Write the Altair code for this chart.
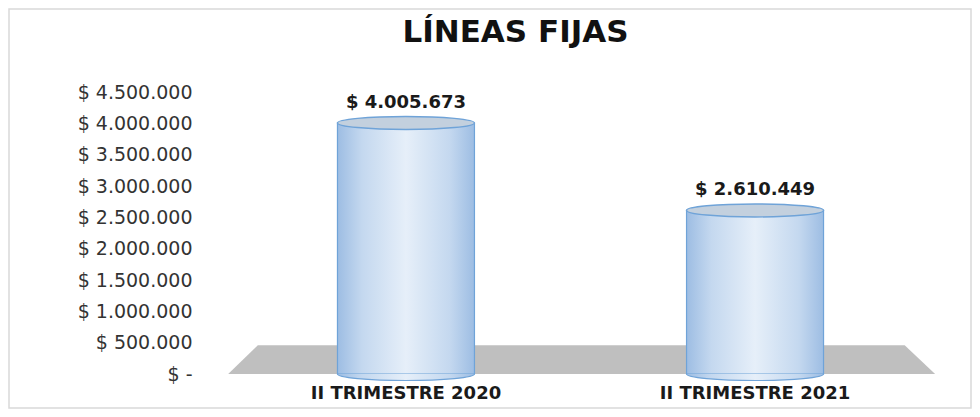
import altair as alt
import pandas as pd

categories = ["II TRIMESTRE 2020", "II TRIMESTRE 2021"]
values = [4005673, 2610449]
y_ticks = [0, 500000, 1000000, 1500000, 2000000, 2500000, 3000000, 3500000, 4000000, 4500000]

# decorative floor (fractions of the plot width, value heights)
floor_x = [0.037, 0.076, 0.926, 0.966]
floor_top = [0, 460000, 460000, 0]

FONT = "DejaVu Sans"

df = pd.DataFrame({
    "cat": categories,
    "value": values,
    "base": [0, 0],
    "label": ["$ " + f"{v:,}".replace(",", ".") for v in values],
})
floor_df = pd.DataFrame({"fx": floor_x, "top": floor_top, "bot": [0, 0, 0, 0]})

xscale = alt.Scale(type="band", domain=categories, paddingInner=0, paddingOuter=0.09)
yscale = alt.Scale(domain=[0, 4500000], nice=False, zero=True)

grad = alt.LinearGradient(
    gradient="linear",
    stops=[
        alt.GradientStop(color="#9dbde3", offset=0),
        alt.GradientStop(color="#c4d8ef", offset=0.18),
        alt.GradientStop(color="#e6eff9", offset=0.5),
        alt.GradientStop(color="#c4d8ef", offset=0.82),
        alt.GradientStop(color="#9dbde3", offset=1),
    ],
    x1=0, x2=1, y1=0, y2=0,
)

k = 0.095
c = 0.5523
ellipse = (
    f"M -1 0 C -1 {-c*k:.4f} {-c:.4f} {-k} 0 {-k} "
    f"C {c:.4f} {-k} 1 {-c*k:.4f} 1 0 "
    f"C 1 {c*k:.4f} {c:.4f} {k} 0 {k} "
    f"C {-c:.4f} {k} -1 {c*k:.4f} -1 0 Z"
)
lower_arc = f"M -1 0 C -1 {c*k:.4f} {-c:.4f} {k} 0 {k} C {c:.4f} {k} 1 {c*k:.4f} 1 0"
lower_half = lower_arc + " Z"
W = 137
SIZE = W * W

YAXIS = alt.Axis(values=y_ticks, tickCount=10, grid=False, domain=False, ticks=False, labelPadding=8,
                 labelOverlap=False, labelFontSize=19, labelFont=FONT, labelColor="#333333",
                 labelExpr="datum.value == 0 ? '$ -' : '$ ' + replace(format(datum.value, ',d'), /,/g, '.')")

border = alt.Chart(pd.DataFrame({"a": [0]})).mark_rect(
    fill=None, stroke="#d9d9d9", strokeWidth=1.5
).encode(
    x=alt.value(-191), x2=alt.value(771), y=alt.value(-83), y2=alt.value(316)
)

floor = alt.Chart(floor_df).mark_area(color="#bfbfbf", opacity=1).encode(
    x=alt.X("fx:Q", scale=alt.Scale(domain=[0, 1], nice=False), axis=None),
    y=alt.Y("top:Q", scale=yscale, axis=YAXIS, title=None),
    y2="bot:Q",
)

base = alt.Chart(df)
X = alt.X(
    "cat:N", scale=xscale, sort=categories, title=None,
    axis=alt.Axis(labelAngle=0, labelFontSize=18, labelFontWeight="bold", labelFont=FONT,
                  labelColor="#1a1a1a", domain=False, ticks=False, labelPadding=10, labelLimit=400),
)
Xn = alt.X("cat:N", scale=xscale, sort=categories, title=None)
Y = alt.Y("value:Q", scale=yscale, title=None, axis=YAXIS)

bars = base.mark_bar(width=W, color=grad, stroke="#6fa3d8", strokeWidth=1.2).encode(
    x=X, y=Y, y2="base:Q"
)
bottom_fill = base.mark_point(shape=lower_half, filled=True, fill=grad, opacity=1, strokeWidth=0).encode(
    x=Xn, y=alt.Y("base:Q", scale=yscale), size=alt.value(SIZE),
)
bottom_arc = base.mark_point(shape=lower_arc, filled=False, stroke="#6fa3d8", strokeWidth=1.2, opacity=1).encode(
    x=Xn, y=alt.Y("base:Q", scale=yscale), size=alt.value(SIZE),
)
top = base.mark_point(shape=ellipse, filled=True, fill="#c3d0de", stroke="#6fa3d8", strokeWidth=1.5, opacity=1).encode(
    x=Xn, y=alt.Y("value:Q", scale=yscale), size=alt.value(SIZE),
)
labels = base.mark_text(font=FONT, fontSize=18, fontWeight="bold", color="#1a1a1a", dy=-20, baseline="middle").encode(
    x=Xn, y=alt.Y("value:Q", scale=yscale), text="label:N",
)

cyl = alt.layer(bars, bottom_fill, bottom_arc, top, labels)

chart = alt.layer(border, floor, cyl).resolve_scale(
    x="independent"
).properties(
    width=761,
    height=282,
    background="white",
    autosize=alt.AutoSizeParams(type="none"),
    padding={"left": 192, "top": 84, "right": 11, "bottom": 35},
    title=alt.TitleParams("LÍNEAS FIJAS", font=FONT, fontSize=31, fontWeight="bold",
                          color="#111111", anchor="middle", frame="group", dx=-65, offset=-41),
).configure_view(strokeWidth=0, stroke="transparent")

chart.save("out.html", embed_options={"renderer": "svg", "actions": False})
